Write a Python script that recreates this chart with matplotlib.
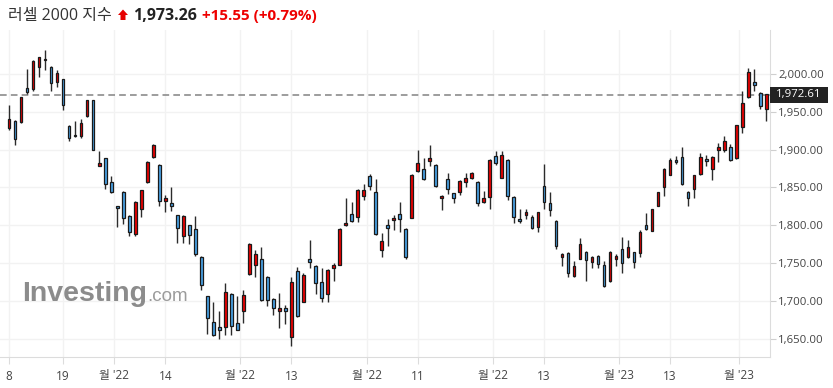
import matplotlib
matplotlib.use('Agg')
import matplotlib.pyplot as plt
from matplotlib.patches import Polygon, Rectangle
import numpy as np

# ---------------- data (daily OHLC) ----------------
opens = [1928, 1938, 1936, 1982, 1980, 2009, 2018, 2009, 1989, 1993,
         1931, 1920, 1918.5, 1945, 1965, 1879, 1888.5, 1857.6, 1825.5, 1844,
         1812, 1788.4, 1822, 1857, 1890, 1880, 1832, 1830, 1813, 1786,
         1800, 1795, 1758.5, 1706.5, 1672, 1666, 1666, 1709, 1671, 1686,
         1735, 1747, 1755, 1732, 1703, 1686, 1690, 1652, 1739, 1699,
         1755, 1746, 1724.5, 1709, 1744, 1748, 1800, 1815, 1810.5, 1839,
         1865, 1843.5, 1767, 1800, 1807, 1815, 1795, 1810, 1872, 1875,
         1885, 1880, 1836, 1861, 1842, 1843.5, 1857, 1863, 1857, 1831,
         1838, 1892, 1863, 1886, 1838, 1808, 1814, 1810.5, 1798, 1852,
         1830, 1806, 1758.5, 1763, 1733, 1756, 1765, 1752, 1760, 1748,
         1726, 1756, 1768, 1758, 1764, 1763, 1800, 1793, 1826, 1850,
         1867, 1886, 1890, 1844, 1847.5, 1868, 1888, 1874, 1900, 1900,
         1903, 1888.5, 1929.5, 1969, 1989, 1975, 1954]
highs = [1959, 1939, 1970, 2006, 2018, 2023, 2032, 2010, 2005, 1994,
         1933, 1938, 1941, 1966, 1966, 1898, 1889, 1865, 1826, 1845,
         1813, 1832, 1847, 1885, 1907, 1881, 1840, 1851, 1814, 1813,
         1801, 1812, 1759, 1707, 1699, 1687, 1723, 1710, 1706, 1715,
         1776, 1767, 1771, 1733, 1704, 1711, 1695, 1732, 1745, 1737,
         1780.5, 1747, 1744, 1742, 1750, 1797, 1836, 1831, 1848, 1854,
         1868, 1861, 1790, 1808, 1814, 1831, 1796, 1868, 1899.5, 1888.5,
         1906, 1881, 1840, 1869, 1843, 1860, 1869, 1870, 1858, 1845,
         1887, 1898, 1898, 1887, 1839, 1821, 1821, 1813, 1818, 1881,
         1844, 1807, 1763, 1764, 1753, 1783, 1766, 1760, 1761, 1753,
         1766, 1762, 1784, 1780.5, 1765, 1794, 1816, 1822, 1844, 1876,
         1888.5, 1892, 1903, 1845, 1867, 1895, 1893, 1891, 1909, 1918,
         1908, 1933, 1977, 2007.5, 2006, 1976, 1974]
lows = [1926, 1906, 1935, 1974, 1978, 1996, 2005, 1977, 1983, 1953,
        1912, 1917, 1916, 1943.6, 1899, 1879, 1848, 1842, 1798, 1802,
        1786, 1786, 1810.5, 1856, 1889, 1825.5, 1818, 1818.5, 1777, 1776,
        1775, 1760, 1715, 1656, 1653, 1649, 1655, 1655, 1661, 1671,
        1734, 1731, 1700, 1693, 1681, 1664, 1670, 1640, 1679, 1698,
        1743, 1709, 1698, 1699, 1726, 1747, 1799, 1804, 1804, 1834,
        1847, 1787, 1758, 1772, 1794, 1791.5, 1756, 1809, 1871, 1860,
        1878, 1850, 1820, 1841, 1829, 1840, 1851, 1861, 1826, 1830,
        1821.5, 1880, 1862, 1833, 1803, 1803, 1808, 1795, 1791.5, 1822,
        1812, 1769, 1746, 1732, 1732, 1755, 1726, 1743, 1744, 1719,
        1725, 1746, 1736.5, 1757, 1744, 1757.6, 1794, 1792, 1825, 1839,
        1866, 1881, 1853, 1825, 1836, 1867, 1878, 1860, 1884, 1897,
        1885, 1887, 1922, 1968, 1978, 1954, 1938]
closes = [1941, 1914, 1969, 1976, 2017, 2022, 2020, 1988, 2001, 1959,
          1916, 1918, 1935, 1965, 1900, 1882, 1855, 1843.5, 1822.4, 1809,
          1791.5, 1831, 1846, 1883, 1906, 1832, 1836.5, 1825, 1797, 1812,
          1787, 1762, 1721, 1678, 1655, 1661, 1712, 1667, 1662, 1708,
          1775, 1762, 1701, 1701, 1690, 1690, 1686, 1725, 1680, 1734,
          1752, 1724, 1703.4, 1741, 1747.5, 1795, 1803, 1806, 1847, 1847,
          1852, 1788, 1779, 1797, 1809, 1808, 1758, 1867, 1882, 1861,
          1888.5, 1852, 1839, 1848, 1836, 1859, 1862, 1869, 1830, 1836,
          1886, 1882, 1893, 1839, 1811, 1805, 1817, 1796, 1817, 1831,
          1820, 1773, 1761.6, 1737, 1746, 1775, 1754, 1758.5, 1749, 1720,
          1764, 1759, 1750, 1771, 1752, 1791.5, 1795, 1821, 1843.5, 1875,
          1886, 1884, 1854, 1836, 1866, 1890, 1884.5, 1890, 1903, 1911,
          1886, 1932, 1961, 2002, 1986, 1958, 1973]

x_tick_labels = ["8", "19", "월 '22", "14", "월 '22", "13", "월 '22", "11",
                 "월 '22", "13", "월 '23", "13", "월 '23"]
x_tick_index = [0, 9, 17.5, 26, 38.5, 47, 59.5, 68, 80.5, 89, 101.5, 110, 121.5]
y_ticks = [1650, 1700, 1750, 1800, 1850, 1900, 1950, 2000]
last_price = 1972.61

title_name = "러셀 2000 지수"
title_price = "1,973.26"
title_change = "+15.55 (+0.79%)"

# ---------------- layout ----------------
W, H = 833, 388
FONT = ['Open Sans', 'Noto Sans CJK KR', 'DejaVu Sans']
plt.rcParams['font.family'] = FONT

fig = plt.figure(figsize=(W / 100, H / 100), dpi=100)
fig.patch.set_facecolor('white')

def fx(px):
    return px / W

def fy(py):
    return 1 - py / H

AX_L, AX_R, AX_T, AX_B = 0, 770, 30, 357
ax = fig.add_axes([fx(AX_L), fy(AX_B), fx(AX_R) - fx(AX_L), fy(AX_T) - fy(AX_B)])

n = len(opens)
x = np.arange(n)
o = np.array(opens, float)
h = np.array(highs, float)
l = np.array(lows, float)
c = np.array(closes, float)

UP = '#ec0000'
DOWN = '#4aa3e6'
colors = [UP if cc >= oo else DOWN for oo, cc in zip(o, c)]
bottoms = np.minimum(o, c)
heights = np.maximum(np.abs(c - o), 1.8)

ax.vlines(x, l, h, color='#2b2b2b', linewidth=1.0, zorder=2)
ax.bar(x, heights, bottom=bottoms, width=0.45, color=colors,
       edgecolor='#1a1a1a', linewidth=0.9, zorder=3)

# scales (pixel-calibrated)
px_per_unit = 0.7563
ax.set_ylim(2000 - (AX_B - 74) / px_per_unit, 2000 + (74 - AX_T) / px_per_unit)
ax.set_xlim((AX_L - 9) / 6.01, (AX_R - 9) / 6.01)

# grid
ax.set_yticks(y_ticks)
ax.set_yticklabels([f"{v:,.2f}" for v in y_ticks])
ax.set_xticks(x_tick_index)
ax.set_xticklabels(x_tick_labels)
ax.grid(True, color='#f2f2f2', linewidth=1.0, zorder=0)
ax.set_axisbelow(True)

ax.yaxis.tick_right()
ax.tick_params(axis='y', length=4, color='#cfcfcf', labelsize=8.2,
               labelcolor='#444444', pad=2)
ax.tick_params(axis='x', length=5, color='#dcdcdc', labelsize=8.5,
               labelcolor='#444444', pad=4)
for s in ['left', 'top']:
    ax.spines[s].set_visible(False)
ax.spines['right'].set_color('#dcdcdc')
ax.spines['bottom'].set_color('#dcdcdc')

# last price dashed line and label
ax.axhline(last_price, color='#8c8c8c', linewidth=1.2, linestyle=(0, (4, 2.5)), zorder=1)
ly = 74 + (2000 - last_price) * px_per_unit
fig.add_artist(Rectangle((fx(770), fy(ly + 8)), fx(828) - fx(770), (16) / H,
                         transform=fig.transFigure, facecolor='#222222',
                         edgecolor='none', zorder=5))
fig.text(fx(776), fy(ly), f"{last_price:,.2f}", color='white', fontsize=8.2,
         va='center', ha='left', zorder=6)

# title
fig.text(fx(8), fy(20), title_name, fontsize=11.5, color='#333333', va='baseline')
arrow = [(118, 15), (123, 9.5), (128, 15), (125.5, 15), (125.5, 20),
         (120.5, 20), (120.5, 15)]
fig.add_artist(Polygon([(fx(a), fy(b)) for a, b in arrow], closed=True,
                       transform=fig.transFigure, facecolor='#e60000',
                       edgecolor='none'))
fig.text(fx(133), fy(20), title_price, fontsize=11.5, color='#222222',
         weight='bold', va='baseline')
fig.text(fx(202), fy(20), title_change, fontsize=11, color='#ee0000',
         weight='bold', va='baseline')

# watermark
t1 = fig.text(fx(22), fy(301), "Investing", fontsize=20.5, weight='bold',
              family=['Liberation Sans'], color='#808080', alpha=0.9, va='baseline')
fig.canvas.draw()
bb = t1.get_window_extent(renderer=fig.canvas.get_renderer())
fig.text(bb.x1 / W, fy(301), ".com", fontsize=13.5, family=['Liberation Sans'],
         color='#8a8a8a', alpha=0.85, va='baseline')

fig.savefig('out.png', dpi=100)
